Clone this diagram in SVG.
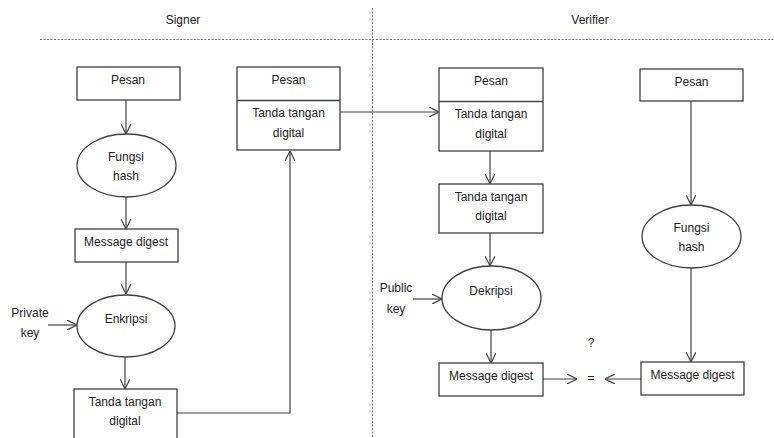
<svg xmlns="http://www.w3.org/2000/svg" width="774" height="438" viewBox="0 0 774 438">
<style>
.box{fill:#fff;stroke:#404040;stroke-width:1.3}
.t{font-family:"Liberation Sans",Arial,sans-serif;font-size:12px;fill:#222;text-anchor:middle}
.c{fill:none;stroke:#404040;stroke-width:1.2}
.d{fill:none;stroke:#777;stroke-width:1;stroke-dasharray:2,1.5}
</style>
<defs>
<marker id="a" viewBox="0 0 10 10" refX="10" refY="5" markerWidth="10" markerHeight="10" markerUnits="userSpaceOnUse" orient="auto">
<path d="M0,0 L10,5 L0,10" fill="none" stroke="#404040" stroke-width="1.2"/>
</marker>
</defs>
<rect width="774" height="438" fill="#fff"/>
<g id="header">
<text class="t" x="183" y="24">Signer</text>
<text class="t" x="590" y="24">Verifier</text>
<line class="d" x1="40" y1="39.5" x2="774" y2="39.5"/>
<line class="d" x1="372.5" y1="8" x2="372.5" y2="438"/>
</g>
<g id="connectors">
<line class="c" x1="126" y1="100" x2="126" y2="134" marker-end="url(#a)"/>
<line class="c" x1="126" y1="197" x2="126" y2="229" marker-end="url(#a)"/>
<line class="c" x1="126" y1="262" x2="126" y2="294" marker-end="url(#a)"/>
<line class="c" x1="48" y1="325" x2="77" y2="325" marker-end="url(#a)"/>
<line class="c" x1="125" y1="357" x2="125" y2="389" marker-end="url(#a)"/>
<polyline class="c" points="177,413 290,413 290,151" marker-end="url(#a)"/>
<line class="c" x1="340" y1="112" x2="439" y2="112" marker-end="url(#a)"/>
<line class="c" x1="490" y1="151" x2="490" y2="184" marker-end="url(#a)"/>
<line class="c" x1="490" y1="233" x2="490" y2="266" marker-end="url(#a)"/>
<line class="c" x1="413" y1="299" x2="442" y2="299" marker-end="url(#a)"/>
<line class="c" x1="491" y1="330" x2="491" y2="363" marker-end="url(#a)"/>
<line class="c" x1="543" y1="379" x2="577" y2="379" marker-end="url(#a)"/>
<line class="c" x1="641" y1="379" x2="605" y2="379" marker-end="url(#a)"/>
<line class="c" x1="691" y1="101" x2="691" y2="205" marker-end="url(#a)"/>
<line class="c" x1="691" y1="268" x2="691" y2="362" marker-end="url(#a)"/>
</g>
<g id="s_pesan">
<rect class="box" x="77" y="67" width="103" height="33"/>
<text class="t" x="128" y="84">Pesan</text>
</g>
<g id="s_hash">
<ellipse class="box" cx="126.5" cy="165.5" rx="49.5" ry="31.5"/>
<text class="t" x="126" y="161">Fungsi</text>
<text class="t" x="126" y="180">hash</text>
</g>
<g id="s_digest">
<rect class="box" x="75" y="229" width="103" height="33"/>
<text class="t" x="126" y="246">Message digest</text>
</g>
<g id="s_private">
<text class="t" x="30" y="317">Private</text>
<text class="t" x="30" y="337">key</text>
</g>
<g id="s_enkripsi">
<ellipse class="box" cx="126" cy="326" rx="49" ry="31"/>
<text class="t" x="126" y="323">Enkripsi</text>
</g>
<g id="s_ttd">
<rect class="box" x="74" y="389" width="103" height="55"/>
<text class="t" x="125" y="406">Tanda tangan</text>
<text class="t" x="125" y="425">digital</text>
</g>
<g id="s_combined">
<rect class="box" x="237" y="67" width="103" height="83"/>
<line class="box" x1="237" y1="100.5" x2="340" y2="100.5" stroke-width="2"/>
<text class="t" x="288.5" y="84">Pesan</text>
<text class="t" x="288.5" y="117">Tanda tangan</text>
<text class="t" x="288.5" y="137">digital</text>
</g>
<g id="v_combined">
<rect class="box" x="439" y="68" width="104" height="83"/>
<line class="box" x1="439" y1="101.5" x2="543" y2="101.5" stroke-width="2"/>
<text class="t" x="491" y="85">Pesan</text>
<text class="t" x="491" y="118">Tanda tangan</text>
<text class="t" x="491" y="138">digital</text>
</g>
<g id="v_ttd">
<rect class="box" x="439" y="184" width="104" height="49"/>
<text class="t" x="491" y="201">Tanda tangan</text>
<text class="t" x="491" y="220">digital</text>
</g>
<g id="v_public">
<text class="t" x="396" y="292">Public</text>
<text class="t" x="396" y="313">key</text>
</g>
<g id="v_dekripsi">
<ellipse class="box" cx="491.5" cy="298" rx="49.5" ry="32"/>
<text class="t" x="491" y="295">Dekripsi</text>
</g>
<g id="v_digest1">
<rect class="box" x="439" y="363" width="104" height="33"/>
<text class="t" x="491" y="380">Message digest</text>
</g>
<g id="v_eq">
<text class="t" x="591" y="347">?</text>
<text class="t" x="591" y="382">=</text>
</g>
<g id="v_pesan">
<rect class="box" x="640" y="69" width="103" height="32"/>
<text class="t" x="691.5" y="86">Pesan</text>
</g>
<g id="v_hash">
<ellipse class="box" cx="691.5" cy="236.5" rx="49.5" ry="31.5"/>
<text class="t" x="691.5" y="232">Fungsi</text>
<text class="t" x="691.5" y="251">hash</text>
</g>
<g id="v_digest2">
<rect class="box" x="641" y="362" width="103" height="33"/>
<text class="t" x="692.5" y="379">Message digest</text>
</g>
</svg>
